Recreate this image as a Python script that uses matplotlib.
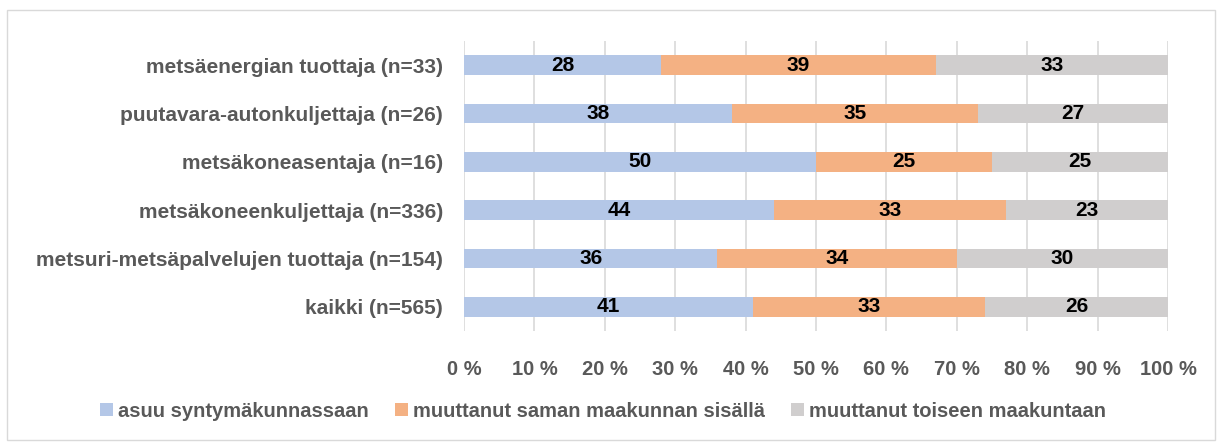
import matplotlib.pyplot as plt
from matplotlib.patches import Rectangle
import numpy as np

categories = ['metsäenergian tuottaja (n=33)',
              'puutavara-autonkuljettaja (n=26)',
              'metsäkoneasentaja (n=16)',
              'metsäkoneenkuljettaja (n=336)',
              'metsuri-metsäpalvelujen tuottaja (n=154)',
              'kaikki (n=565)']
syntyma = [28, 38, 50, 44, 36, 41]
sama = [39, 35, 25, 33, 34, 33]
toinen = [33, 27, 25, 23, 30, 26]
series_names = ['asuu syntymäkunnassaan',
                'muuttanut saman maakunnan sisällä',
                'muuttanut toiseen maakuntaan']
colors = ['#b4c7e7', '#f4b183', '#d0cece']

plt.rcParams['font.family'] = ['Liberation Sans', 'DejaVu Sans']
plt.rcParams['font.weight'] = 'bold'

fig = plt.figure(figsize=(12.22, 4.48), dpi=100)
ax = fig.add_axes([464 / 1222, 1 - 331 / 448, 704 / 1222, 290 / 448])

y = np.arange(len(categories))
left = np.zeros(len(categories))
for vals, name, c in zip([syntyma, sama, toinen], series_names, colors):
    bars = ax.barh(y, vals, left=left, height=0.41, color=c, label=name, zorder=2)
    for b, v in zip(bars, vals):
        ax.text(b.get_x() + b.get_width() / 2, b.get_y() + b.get_height() / 2,
                str(v), ha='center', va='center', fontsize=15,
                fontweight='bold', color='black', zorder=3)
    left += np.array(vals)

ax.set_xlim(0, 100)
ax.set_ylim(len(categories) - 0.5, -0.5)
ax.set_yticks(y)
ax.set_yticklabels(categories, fontsize=15, color='#595959', fontweight='bold')
ax.set_xticks(np.arange(0, 101, 10))
ax.set_xticklabels(['%d %%' % t for t in range(0, 101, 10)],
                   fontsize=14.5, color='#595959', fontweight='bold')
ax.tick_params(length=0, axis='both')
ax.tick_params(axis='x', pad=21)
ax.tick_params(axis='y', pad=15)
ax.grid(axis='x', color='#d9d9d9', linewidth=1.2, zorder=0)
for s in ax.spines.values():
    s.set_visible(False)

leg = fig.legend(loc='center', bbox_to_anchor=(603 / 1222, 1 - 411 / 448), ncol=3,
                 frameon=False, fontsize=14.5, handlelength=0.65, handleheight=0.65,
                 handletextpad=0.25, columnspacing=1.3)
for t in leg.get_texts():
    t.set_color('#595959')
    t.set_fontweight('bold')

fig.patches.append(Rectangle((7 / 1222, 8 / 448), 1208 / 1222, 430 / 448,
                             transform=fig.transFigure, fill=False,
                             edgecolor='#d9d9d9', linewidth=1))

plt.savefig('out.png', dpi=100)
